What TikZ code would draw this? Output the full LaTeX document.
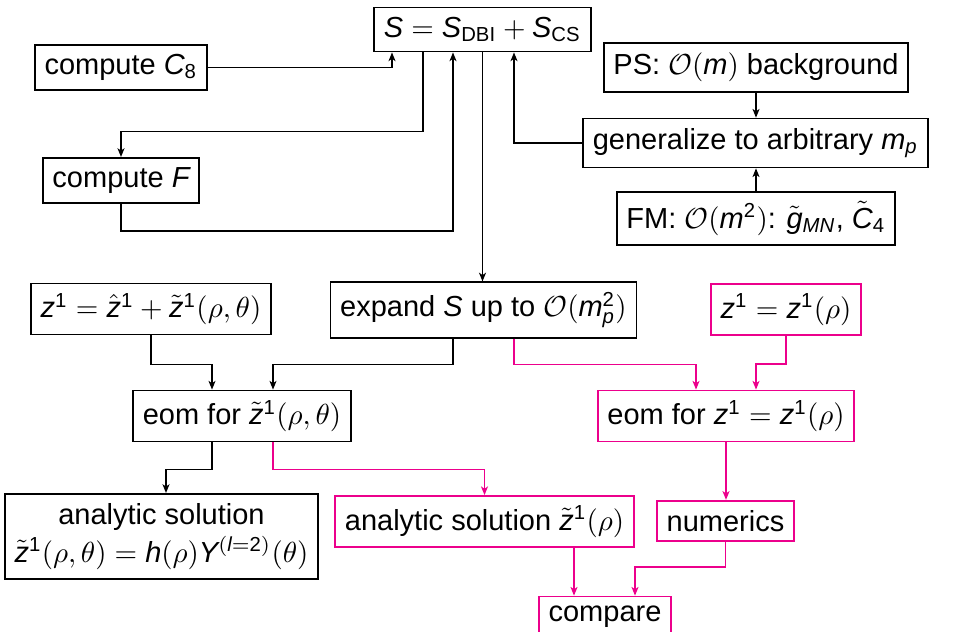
\documentclass[tikz,border=0pt]{standalone}
\usepackage{amsmath}
\usepackage{fontspec}
\setmainfont{Liberation Sans}
\usetikzlibrary{arrows.meta,calc}
\definecolor{mag}{RGB}{236,0,140}
\newcommand{\vi}[1]{\mathit{#1}}
\newcommand{\vd}[1]{\mathrm{#1}}
\begin{document}
\begin{tikzpicture}[x=0.3448pt,y=-0.3448pt,
  font=\fontsize{10}{13}\selectfont,
  box/.style={draw,line width=0.6pt,inner sep=0.3333em},
  mbox/.style={box,draw=mag},
  con/.style={line width=0.5pt,-{Stealth[length=3pt,width=2.4pt,inset=0.8pt]}},
  mcon/.style={con,draw=mag}]
\useasboundingbox (0,0) rectangle (965,631);
% nodes
\node[box] (S) at (482.5,29.5) {$\vi{S} = \vi{S}_{\mathrm{DBI}} + \vi{S}_{\mathrm{CS}}$};
\node[box] (c8) at (121,67.5) {compute $\vi{C}_{\vd{8}}$};
\node[box] (f) at (121,180.5) {compute $\vi{F}$};
\node[box] (ps) at (756,67.5) {PS: $\mathcal{O}(\vi{m})$ background};
\node[box] (gen) at (755.5,143) {generalize to arbitrary $\vi{m}_{\vi{p}}$};
\node[box] (fm) at (756,218.5) {FM: $\mathcal{O}(\vi{m}^{\vd{2}})$: $\tilde{\vi{g}}_{\vi{MN}}$, $\tilde{\vi{C}}_{\vd{4}}$};
\node[box] (zh) at (151,309) {$\vi{z}^{\vd{1}} = \hat{\vi{z}}^{\vd{1}} + \tilde{\vi{z}}^{\vd{1}}(\rho,\theta)$};
\node[box] (ex) at (483.5,310) {expand $\vi{S}$ up to $\mathcal{O}(\vi{m}_{\vi{p}}^{\vd{2}})$};
\node[mbox] (zr) at (786,309.5) {$\vi{z}^{\vd{1}} = \vi{z}^{\vd{1}}(\rho)$};
\node[box] (et) at (242,416) {eom for $\tilde{\vi{z}}^{\vd{1}}(\rho,\theta)$};
\node[mbox] (ez) at (726,416) {eom for $\vi{z}^{\vd{1}} = \vi{z}^{\vd{1}}(\rho)$};
\node[box,align=center] (ab) at (161.5,536.5) {analytic solution\\ $\tilde{\vi{z}}^{\vd{1}}(\rho,\theta) = \vi{h}(\rho)\vi{Y}^{(\vi{l}=\vd{2})}(\theta)$};
\node[mbox] (am) at (484.5,521.5) {analytic solution $\tilde{\vi{z}}^{\vd{1}}(\rho)$};
\node[mbox] (nu) at (725.5,521) {numerics};
\node[mbox] (cm) at (605,617) {compare};
% black connectors
\draw[con] (c8.east) -| ($(S.south)+(-90.5,0)$);
\draw[con] ($(S.south)+(-59.5,0)$) -- ++(0,79) -| (f.north);
\draw[con] (f.south) -- ++(0,27) -| ($(S.south)+(-29.5,0)$);
\draw[con] (S.south) -- (S.south |- ex.north);
\draw[con] (gen.west) -| ($(S.south)+(31.5,0)$);
\draw[con] (ps.south) -- (ps.south |- gen.north);
\draw[con] (fm.north) -- (fm.north |- gen.south);
\draw[con] (zh.south) -- ++(0,29) -| ($(et.north)+(-30,0)$);
\draw[con] ($(ex.south)+(-30.5,0)$) -- ++(0,26) -| ($(et.north)+(31,0)$);
\draw[con] ($(et.south)+(-30,0)$) -- ++(0,27) -| ($(ab.north)+(4.5,0)$);
% magenta connectors
\draw[mcon] ($(ex.south)+(30.5,0)$) -- ++(0,26) -| ($(ez.north)+(-30,0)$);
\draw[mcon] (zr.south) -- ++(0,28) -| ($(ez.north)+(30,0)$);
\draw[mcon] ($(et.south)+(31,0)$) -- ++(0,27) -| (am.north);
\draw[mcon] (ez.south) -- (ez.south |- nu.north);
\draw[mcon] ($(am.south)+(89.5,0)$) -- ++(0,19) -| ($(cm.north)+(-31,0)$);
\draw[mcon] (nu.south) -- ++(0,25) -| ($(cm.north)+(30,0)$);
\end{tikzpicture}
\end{document}
